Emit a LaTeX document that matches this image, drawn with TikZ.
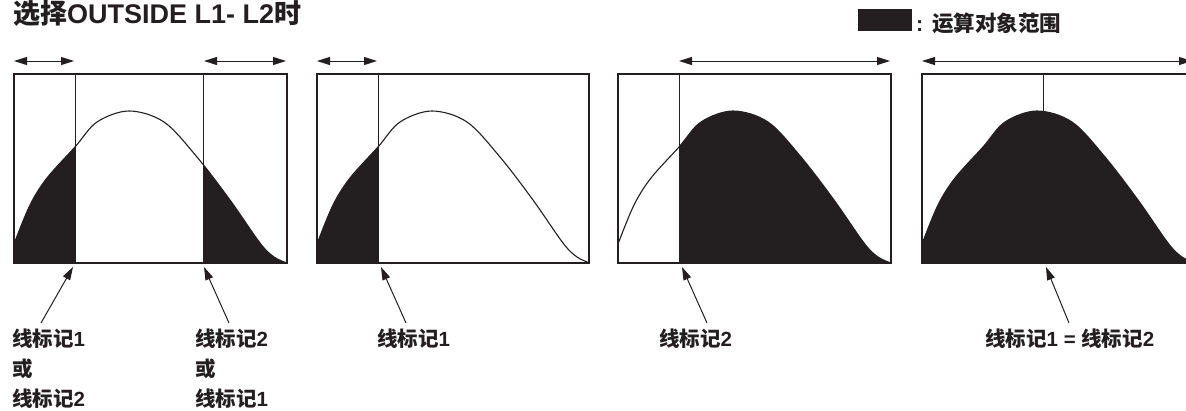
\documentclass[tikz,border=0pt]{standalone}
\usepackage{fontspec}
\usetikzlibrary{arrows.meta}
\newfontfamily\cjkf{Noto Sans CJK SC}
\newfontfamily\latf{Liberation Sans}
\newcommand\cjkb[1]{{\cjkf\bfseries #1}}
\newcommand\latb[1]{{\latf\bfseries #1}}
\definecolor{ink}{RGB}{35,31,32}
\def\crv{plot[smooth,tension=.55] coordinates {(0,244) (16,205) (33,178) (61,147) (83,122) (115,111) (150,122) (183,157) (216,200) (246,243) (260,257) (273,263)}}
\tikzset{
  blk/.style={fill=ink},
  crvline/.style={draw=ink,line width=1.1pt},
  frame/.style={draw=ink,line width=1.5pt},
  mk/.style={draw=ink,line width=0.9pt},
  dim/.style={draw=ink,line width=1pt,{Triangle[length=13pt,width=8pt]}-{Triangle[length=13pt,width=8pt]}},
  ptr/.style={draw=ink,line width=1pt,-{Triangle[length=13pt,width=8pt]}},
  lab/.style={inner sep=0pt,anchor=base west,text=ink,font=\fontsize{20.5}{24}\selectfont},
  leg/.style={inner sep=0pt,anchor=base west,text=ink,font=\fontsize{21.5}{24}\selectfont},
  ttl/.style={inner sep=0pt,anchor=base west,text=ink,font=\fontsize{27}{30}\selectfont}
}
\begin{document}
\begin{tikzpicture}[x=1pt,y=-1pt]
\useasboundingbox (0,0) rectangle (1186,410);
\clip (0,0) rectangle (1186,410);
% title and legend
\node[ttl] (title) at (13,23) {\cjkb{选择}\latb{OUTSIDE L1- L2}\cjkb{时}};
\fill[blk] (858,9) rectangle (912,31);
\node[leg] (legend) at (916,31) {\latb{:} \cjkb{运算对象范围}};
% panel 1
\begin{scope}[shift={(14,0)}]
  \begin{scope}
    \clip (0,74) rectangle (61,263) (189,74) rectangle (273,263);
    \fill[blk] \crv -- (0,263) -- cycle;
  \end{scope}
  \draw[crvline] \crv;
  \draw[mk] (61,74) -- (61,263);
  \draw[mk] (189,74) -- (189,263);
  \draw[frame] (0,74) rectangle (273,263);
  \coordinate (d1a) at (0,61); \coordinate (d1b) at (60,61);
  \coordinate (d1c) at (190,61); \coordinate (d1d) at (272,61);
\end{scope}
\draw[dim] (d1a) -- (d1b);
\draw[dim] (d1c) -- (d1d);
% panel 2
\begin{scope}[shift={(317,0)}]
  \begin{scope}
    \clip (0,74) rectangle (61,263);
    \fill[blk] \crv -- (0,263) -- cycle;
  \end{scope}
  \draw[crvline] \crv;
  \draw[mk] (61,74) -- (61,263);
  \draw[frame] (0,74) rectangle (272,263);
  \coordinate (d2a) at (0,61); \coordinate (d2b) at (60,61);
\end{scope}
\draw[dim] (d2a) -- (d2b);
% panel 3
\begin{scope}[shift={(618,0)}]
  \begin{scope}
    \clip (61,74) rectangle (273,263);
    \fill[blk] \crv -- (0,263) -- cycle;
  \end{scope}
  \draw[crvline] \crv;
  \draw[mk] (61,74) -- (61,263);
  \draw[frame] (0,74) rectangle (273,263);
  \coordinate (d3a) at (61,61); \coordinate (d3b) at (272,61);
\end{scope}
\draw[dim] (d3a) -- (d3b);
% panel 4
\begin{scope}[shift={(922,0)}]
  \fill[blk] \crv -- (0,263) -- cycle;
  \draw[crvline] \crv;
  \draw[mk] (121,74) -- (121,112);
  \draw[frame] (0,74) rectangle (273,263);
  \coordinate (d4a) at (0,61); \coordinate (d4b) at (270,61);
\end{scope}
\draw[dim] (d4a) -- (d4b);
% labels
\node[lab] (l1a) at (12,346) {\cjkb{线标记}\latb{1}};
\node[lab] (l1b) at (12,376) {\cjkb{或}};
\node[lab] (l1c) at (12,406) {\cjkb{线标记}\latb{2}};
\node[lab] (l2a) at (195,346) {\cjkb{线标记}\latb{2}};
\node[lab] (l2b) at (195,376) {\cjkb{或}};
\node[lab] (l2c) at (195,406) {\cjkb{线标记}\latb{1}};
\node[lab] (l3) at (377,346) {\cjkb{线标记}\latb{1}};
\node[lab] (l4) at (659,346) {\cjkb{线标记}\latb{2}};
\node[lab] (l5) at (985,346) {\cjkb{线标记}\latb{1 = }\cjkb{线标记}\latb{2}};
% pointers
\coordinate (p1t) at (41,323);   \coordinate (p1h) at (73,267);
\coordinate (p2t) at (229,323);  \coordinate (p2h) at (204,267);
\coordinate (p3t) at (406,323);  \coordinate (p3h) at (381,267);
\coordinate (p4t) at (707,323);  \coordinate (p4h) at (682,267);
\coordinate (p5t) at (1069,323); \coordinate (p5h) at (1046,267);
\draw[ptr] (p1t) -- (p1h);
\draw[ptr] (p2t) -- (p2h);
\draw[ptr] (p3t) -- (p3h);
\draw[ptr] (p4t) -- (p4h);
\draw[ptr] (p5t) -- (p5h);
\end{tikzpicture}
\end{document}
